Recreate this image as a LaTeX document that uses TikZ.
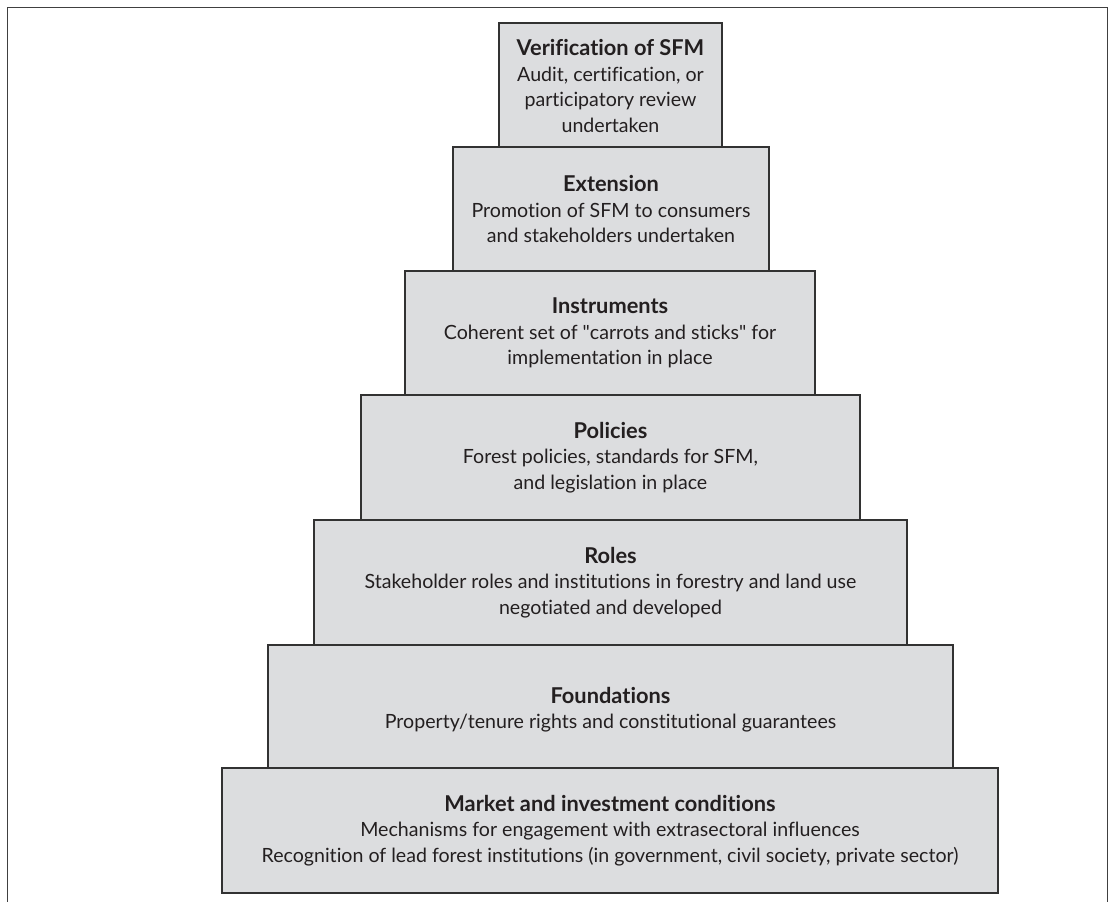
\documentclass[tikz,border=0pt]{standalone}
\usepackage{fontspec}
\setmainfont{Lato}[Ligatures=NoCommon]
\definecolor{boxfill}{RGB}{220,221,223}
\definecolor{boxline}{RGB}{50,50,50}
\definecolor{txt}{RGB}{35,31,32}
\newcommand{\tiertitle}[1]{{\fontsize{21.8}{25.6}\selectfont\bfseries #1}}
\tikzset{
  tier/.style={draw=boxline, line width=1.5pt, fill=boxfill, inner sep=0pt, outer sep=0pt},
  tiertext/.style={align=center, text=txt, inner sep=0pt, font=\fontsize{19.6}{25.6}\selectfont},
  frameline/.style={draw=black!75, line width=1pt}
}
\begin{document}
\begin{tikzpicture}[x=1pt,y=-1pt]
\useasboundingbox (0,0) rectangle (1109,902);
\coordinate (ftl) at (7,7);
\coordinate (ftr) at (1107.5,7);
\coordinate (fbl) at (7,902);
\coordinate (fbr) at (1107.5,902);
\draw[frameline] (fbl) -- (ftl) -- (ftr) -- (fbr);
% tiers
\node[tier, minimum width=223pt, minimum height=124pt] (t1) at (610.5,85) {};
\node[tier, minimum width=316pt, minimum height=124pt] (t2) at (611,209) {};
\node[tier, minimum width=410pt, minimum height=124pt] (t3) at (610,333) {};
\node[tier, minimum width=499pt, minimum height=125pt] (t4) at (610.5,457.5) {};
\node[tier, minimum width=593pt, minimum height=125pt] (t5) at (610.5,582.5) {};
\node[tier, minimum width=685pt, minimum height=123pt] (t6) at (610.5,706.5) {};
\node[tier, minimum width=776pt, minimum height=125pt] (t7) at (610,830.5) {};
% texts
\node[tiertext] (x1) at ([yshift=-1pt]t1.center) {\tiertitle{Verification of SFM}\\Audit, certification, or\\participatory review\\undertaken};
\node[tiertext] (x2) at (t2.center) {\tiertitle{Extension}\\Promotion of SFM to consumers\\and stakeholders undertaken};
\node[tiertext] (x3) at (t3.center) {\tiertitle{Instruments}\\Coherent set of \textquotedbl carrots and sticks\textquotedbl\ for\\implementation in place};
\node[tiertext] (x4) at (t4.center) {\tiertitle{Policies}\\Forest policies, standards for SFM,\\and legislation in place};
\node[tiertext] (x5) at (t5.center) {\tiertitle{Roles}\\Stakeholder roles and institutions in forestry and land use\\negotiated and developed};
\node[tiertext] (x6) at ([yshift=-3pt]t6.center) {\tiertitle{Foundations}\\Property/tenure rights and constitutional guarantees};
\node[tiertext] (x7) at (t7.center) {\tiertitle{Market and investment conditions}\\Mechanisms for engagement with extrasectoral influences\\Recognition of lead forest institutions (in government, civil society, private sector)};
\end{tikzpicture}
\end{document}
